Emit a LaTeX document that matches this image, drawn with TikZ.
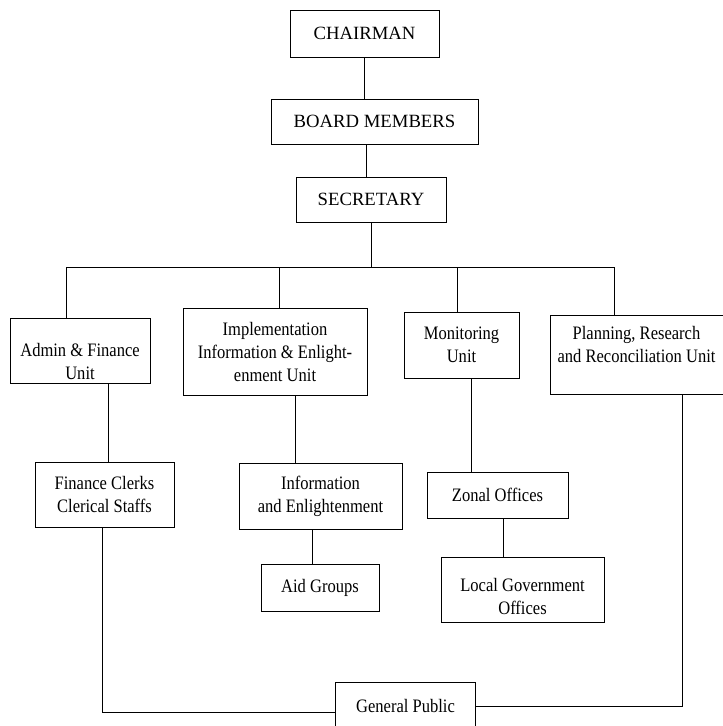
\documentclass[tikz,border=0pt]{standalone}
\usepackage{fontspec}
\setmainfont{Liberation Serif}
\newfontfamily\narrowfont{Liberation Serif}[FakeStretch=0.87]

\tikzset{
  unit/.style={draw, align=center, inner sep=2pt, font=\narrowfont\fontsize{19}{23}\selectfont},
  head/.style={unit, font=\fontsize{18.7}{22}\selectfont}
}

\begin{document}
\begin{tikzpicture}[line width=0.9pt]
  \useasboundingbox (0pt,0pt) rectangle (723pt,-726pt);
  \draw (364.5pt, -33.5pt)node[head,minimum width=149pt,minimum height=47pt](chair){CHAIRMAN};
  \draw (374.5pt, -121.5pt)node[head,minimum width=207pt,minimum height=45pt](board){BOARD MEMBERS};
  \draw (371.0pt, -199.5pt)node[head,minimum width=150pt,minimum height=45pt](sec){SECRETARY};
  \draw (80.0pt, -350.5pt)node[unit,minimum width=140pt,minimum height=65pt](admin){\mbox{}\\[12pt]Admin \& Finance\\Unit};
  \draw (275.0pt, -352.0pt)node[unit,minimum width=184pt,minimum height=87pt](impl){Implementation\\Information \& Enlight-\\enment Unit};
  \draw (461.5pt, -345.0pt)node[unit,minimum width=115pt,minimum height=66pt](monit){Monitoring\\Unit};
  \draw (636.5pt, -354.5pt)node[unit,minimum width=173pt,minimum height=79pt](plan){Planning, Research\\and Reconciliation Unit\\[-3pt]\mbox{}};
  \draw (104.5pt, -494.5pt)node[unit,minimum width=139pt,minimum height=65pt](clerks){Finance Clerks\\Clerical Staffs};
  \draw (320.5pt, -496.0pt)node[unit,minimum width=163pt,minimum height=66pt](info){Information\\and Enlightenment};
  \draw (320.0pt, -587.5pt)node[unit,minimum width=118pt,minimum height=47pt](aid){Aid Groups};
  \draw (497.5pt, -495.0pt)node[unit,minimum width=141pt,minimum height=46pt](zonal){Zonal Offices};
  \draw (522.5pt, -589.5pt)node[unit,minimum width=163pt,minimum height=65pt](local){\mbox{}\\[4pt]Local Government\\Offices};
  \draw (405.5pt, -706.0pt)node[unit,minimum width=140pt,minimum height=48pt](public){General Public};
  % bus under the secretary
  \coordinate (b0) at (371pt,-267pt);
  \coordinate (b1) at (66pt,-267pt);
  \coordinate (b2) at (279pt,-267pt);
  \coordinate (b3) at (457pt,-267pt);
  \coordinate (b4) at (614pt,-267pt);
  \draw (chair.south) -- ([xshift=-10pt]board.north);
  \draw ([xshift=-8.5pt]board.south) -- ([xshift=-5pt]sec.north);
  \draw (sec.south) -- (b0);
  \draw (b1) -- (b4);
  \foreach \b/\n in {b1/admin,b2/impl,b3/monit,b4/plan}
    \draw (\b) -- (\b |- \n.north);
  \draw ([xshift=28pt]admin.south) -- ([xshift=3.5pt]clerks.north);
  \draw ([xshift=20pt]impl.south) -- ([xshift=-25.5pt]info.north);
  \draw ([xshift=-8.5pt]info.south) -- ([xshift=-8pt]aid.north);
  \draw ([xshift=9.5pt]monit.south) -- ([xshift=-26.5pt]zonal.north);
  \draw ([xshift=5.5pt]zonal.south) -- ([xshift=-19.5pt]local.north);
  % to the general public
  \draw ([xshift=-2.5pt]clerks.south) |- ([yshift=-6pt]public.west);
  \draw (public.east) -| ([xshift=45.5pt]plan.south);
\end{tikzpicture}
\end{document}
